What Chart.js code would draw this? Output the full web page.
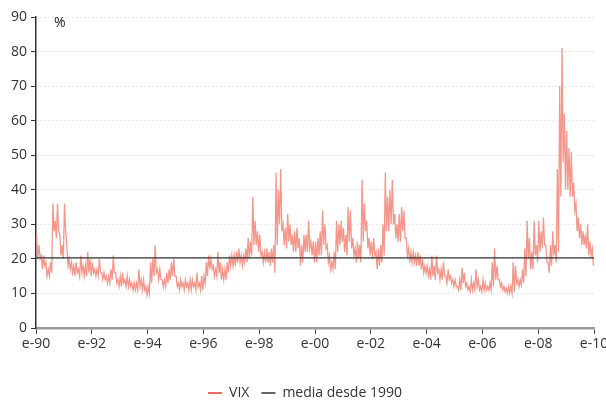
<!DOCTYPE html>
<html>
<head>
<meta charset="utf-8">
<script src="https://cdn.jsdelivr.net/npm/chart.js@4.4.0/dist/chart.umd.min.js"></script>
<style>
  html, body { margin: 0; padding: 0; background: #fff; }
  #wrap { width: 606px; height: 400px; }
</style>
</head>
<body>
<div id="wrap"><canvas id="vixChart" width="606" height="400"></canvas></div>
<script>
// VIX, two readings per month (first half / second half)
const firstYear = 1990;
const perYear = 24;
const vix = [
  // 1990
  27, 20, 24, 20, 21, 17, 21, 18, 19, 15, 17, 15, 19, 16, 36, 28, 31, 26, 36, 28, 27, 21, 24, 20,
  // 1991
  36, 28, 24, 18, 20, 17, 19, 16, 18, 15, 19, 16, 17, 15, 21, 16, 18, 15, 18, 15, 22, 16, 20, 15,
  // 1992
  19, 16, 17, 15, 17, 15, 20, 16, 16, 14, 16, 14, 15, 13, 15, 13, 17, 14, 21, 16, 16, 13, 14, 12,
  // 1993
  15, 12, 16, 13, 14, 12, 15, 12, 14, 12, 13, 11, 13, 11, 13, 11, 17, 12, 14, 11, 14, 11, 12, 9.5,
  // 1994
  12, 10, 19, 13, 20, 15, 24, 16, 17, 14, 17, 14, 14, 12, 14, 12, 16, 13, 17, 14, 19, 15, 20, 15,
  // 1995
  15, 12, 13, 11, 14, 12, 13, 11, 14, 12, 13, 11, 14, 11, 14, 12, 13, 11, 16, 12, 13, 11, 15, 11,
  // 1996
  15, 13, 19, 15, 21, 17, 20, 17, 18, 15, 17, 15, 22, 16, 19, 14, 17, 14, 17, 14, 19, 16, 21, 18,
  // 1997
  21, 18, 21, 18, 22, 19, 23, 19, 21, 18, 21, 19, 23, 19, 26, 20, 25, 21, 38, 24, 31, 24, 28, 22,
  // 1998
  27, 21, 22, 19, 22, 19, 23, 19, 22, 18, 23, 19, 24, 16, 45, 24, 40, 30, 46, 28, 30, 24, 29, 23,
  // 1999
  33, 25, 30, 24, 27, 22, 28, 22, 29, 23, 26, 18, 24, 19, 27, 22, 27, 22, 31, 23, 25, 21, 25, 19,
  // 2000
  25, 19, 26, 21, 28, 21, 34, 24, 30, 23, 24, 19, 21, 17, 19, 17, 22, 17, 31, 22, 30, 24, 31, 25,
  // 2001
  29, 22, 27, 21, 35, 25, 34, 23, 26, 21, 23, 19, 25, 20, 24, 19, 43, 25, 36, 28, 31, 23, 26, 21,
  // 2002
  25, 20, 26, 21, 22, 17, 23, 18, 24, 19, 30, 21, 45, 28, 38, 28, 40, 30, 43, 30, 33, 26, 30, 25,
  // 2003
  33, 25, 35, 28, 34, 26, 26, 21, 23, 19, 22, 19, 22, 19, 21, 18, 22, 18, 21, 17, 20, 16, 18, 16,
  // 2004
  18, 15, 17, 14, 21, 15, 18, 14, 21, 16, 17, 14, 17, 14, 19, 15, 15, 13, 17, 14, 15, 13, 14, 12,
  // 2005
  14, 12, 12, 11, 14, 11, 17.5, 13, 16, 12, 13, 11, 12, 10.5, 14, 11, 13, 11, 17, 12, 14, 11, 12, 10.5,
  // 2006
  14, 11, 13, 11, 12, 11, 13, 11, 19, 12, 23, 14, 18, 14, 14, 12, 13, 11, 12, 10.5, 11.5, 10, 12, 10,
  // 2007
  12, 10, 19, 10.5, 18, 13, 14, 12, 14, 12.5, 17, 13, 23, 15, 31, 20, 26, 17, 22, 17, 31, 21, 24, 19,
  // 2008
  31, 22, 28, 23, 32, 24, 24, 19, 19, 16, 24, 18, 28, 21, 24, 19, 46, 22, 70, 38, 81, 48, 62, 40,
  // 2009
  57, 40, 52, 38, 51, 38, 42, 34, 36, 28, 32, 26, 30, 24, 28, 24, 27, 23, 30, 21, 25, 21, 23, 18
];
const media = 20.3;
const tickYears = [1990, 1992, 1994, 1996, 1998, 2000, 2002, 2004, 2006, 2008, 2010];
const tickLabels = ['e-90', 'e-92', 'e-94', 'e-96', 'e-98', 'e-00', 'e-02', 'e-04', 'e-06', 'e-08', 'e-10'];
const yTicks = [0, 10, 20, 30, 40, 50, 60, 70, 80, 90];

const vixPoints = vix.map((v, i) => ({ x: firstYear + (i + 0.5) / perYear, y: v }));
const mediaPoints = [{ x: tickYears[0], y: media }, { x: tickYears[tickYears.length - 1], y: media }];

const unitLabel = {
  id: 'unitLabel',
  afterDraw(chart) {
    const ctx = chart.ctx;
    ctx.save();
    ctx.fillStyle = '#222';
    ctx.font = '14px "Open Sans"';
    ctx.textBaseline = 'middle';
    ctx.fillText('%', chart.chartArea.left + 18, chart.chartArea.top + 6);
    ctx.restore();
  }
};

Chart.defaults.font.family = '"Open Sans"';
Chart.defaults.font.size = 14;
Chart.defaults.color = '#333';

new Chart(document.getElementById('vixChart'), {
  type: 'line',
  data: {
    datasets: [
      {
        label: 'VIX',
        data: vixPoints,
        borderColor: '#f4978a',
        borderWidth: 1.3,
        pointRadius: 0,
        tension: 0,
        order: 1
      },
      {
        label: 'media desde 1990',
        data: mediaPoints,
        borderColor: '#333',
        borderWidth: 1.2,
        pointRadius: 0,
        order: 0
      }
    ]
  },
  options: {
    responsive: false,
    animation: false,
    layout: { padding: { top: 17, right: 0, left: 4, bottom: -10 } },
    plugins: {
      tooltip: { enabled: false },
      legend: {
        position: 'bottom',
        labels: {
          usePointStyle: true,
          pointStyle: 'line',
          pointStyleWidth: 14,
          padding: 12,
          color: '#333',
          font: { size: 14 },
          sort: (a, b) => a.datasetIndex - b.datasetIndex,
          generateLabels: chart => {
            const items = Chart.defaults.plugins.legend.labels.generateLabels(chart);
            items.forEach(it => {
              it.lineWidth = 1.5;
              if (it.datasetIndex === 0) it.strokeStyle = '#e3392e';
            });
            return items;
          }
        }
      }
    },
    scales: {
      x: {
        type: 'linear',
        min: tickYears[0],
        max: tickYears[tickYears.length - 1],
        afterBuildTicks: s => { s.ticks = tickYears.map(v => ({ value: v })); },
        ticks: {
          callback: v => tickLabels[tickYears.indexOf(v)],
          maxRotation: 0,
          autoSkip: false,
          padding: 2,
          color: '#333'
        },
        grid: { drawOnChartArea: false, tickLength: 6, tickColor: '#444', tickWidth: 1 },
        border: { color: '#999', width: 2.5 },
        afterFit: s => { s.height = 46; s.paddingRight = 12; }
      },
      y: {
        min: 0,
        max: 90,
        afterBuildTicks: s => { s.ticks = yTicks.map(v => ({ value: v })); },
        ticks: { padding: 4, color: '#333' },
        grid: { color: '#d0d0d0', tickColor: '#333', tickLength: 5, lineWidth: 1 },
        border: { color: '#333', width: 1.5, dash: [1, 3] },
        afterFit: s => { s.width = 32; }
      }
    }
  },
  plugins: [unitLabel]
});
</script>
</body>
</html>
